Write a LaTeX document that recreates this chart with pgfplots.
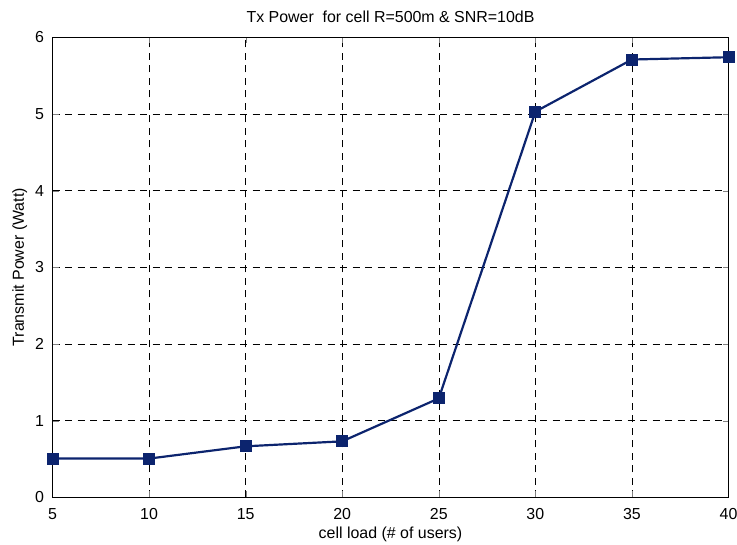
\documentclass[border=0pt]{standalone}
\usepackage{fontspec}
\setmainfont{Liberation Sans}
\usepackage{pgfplots}
\pgfplotsset{compat=1.18}
\definecolor{navy}{RGB}{12,36,110}
\begin{document}
\fontsize{16}{19}\selectfont
\begin{tikzpicture}
\begin{axis}[
  scale only axis,
  width=676bp, height=460bp,
  xmin=5, xmax=40, ymin=0, ymax=6,
  xtick={5,10,...,40}, ytick={0,1,...,6},
  tick align=inside,
  major tick length=6bp,
  axis line style={line width=0.8pt},
  grid=major,
  major grid style={black, dash pattern=on 7bp off 5.5bp, line width=0.5pt},
  /pgf/number format/assume math mode=true,
  ticklabel style={font=\fontsize{16}{19}\selectfont},
  xticklabel style={yshift=-6bp},
  yticklabel style={xshift=-3bp},
  label style={font=\fontsize{16}{19}\selectfont},
  title style={font=\fontsize{16}{19}\selectfont, yshift=3bp},
  title={Tx Power\ \ for cell R=500m \& SNR=10dB},
  xlabel={cell load (\# of users)},
  ylabel={Transmit Power (Watt)},
  xlabel style={yshift=4bp},
  ylabel style={yshift=-3bp},
  clip=false,
]
\addplot[navy, line width=2.2pt, mark=square*, mark size=5.5bp, mark options={solid, fill=navy, line width=1pt}]
coordinates {(5,0.505) (10,0.505) (15,0.665) (20,0.73) (25,1.29) (30,5.03) (35,5.71) (40,5.74)};
\end{axis}
\pgfresetboundingbox
\path (current axis.south west) ++(-52.5bp,-47bp) coordinate (bbA);
\path (current axis.north east) ++(8.5bp,37.3bp) coordinate (bbB);
\useasboundingbox (bbA) rectangle (bbB);
\end{tikzpicture}
\end{document}
